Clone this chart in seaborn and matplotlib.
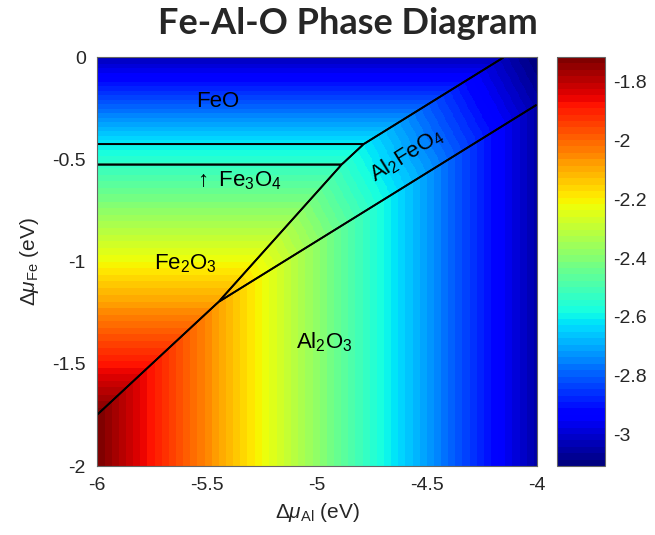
import numpy as np
import pandas as pd
import matplotlib
matplotlib.use("Agg")
import matplotlib.pyplot as plt
import seaborn as sns
from matplotlib.colors import ListedColormap

# ---------------- data ----------------
phases = ["FeO", "Fe3O4", "Fe2O3", "Al2O3", "Al2FeO4"]
n_Al = [0, 0, 0, 2, 2]
n_Fe = [1, 3, 2, 0, 1]
n_O = [1, 4, 3, 3, 4]
H_form = [-3.033, -11.706, -8.648, -17.148, -20.43]   # eV per formula unit

x_range = [-6.0, -4.0]   # delta mu_Al
y_range = [-2.0, 0.0]    # delta mu_Fe

xticks = [-6, -5.5, -5, -4.5, -4]
xtick_labels = ["-6", "-5.5", "-5", "-4.5", "-4"]
yticks = [0, -0.5, -1, -1.5, -2]
ytick_labels = ["0", "-0.5", "-1", "-1.5", "-2"]
cbar_ticks = [-1.8, -2.0, -2.2, -2.4, -2.6, -2.8, -3.0]
cbar_labels = ["-1.8", "-2", "-2.2", "-2.4", "-2.6", "-2.8", "-3"]

label_text = ["FeO", r"$\uparrow$ Fe$_3$O$_4$", "Fe$_2$O$_3$", "Al$_2$O$_3$", "Al$_2$FeO$_4$"]
label_x = [-5.45, -5.36, -5.60, -4.965, -4.59]
label_y = [-0.243, -0.634, -1.041, -1.425, -0.48]
label_rot = [0, 0, 0, 0, 32]

title = "Fe-Al-O Phase Diagram"

# ---------------- style ----------------
sns.set_theme(style="white")
plt.rcParams["font.family"] = ["Liberation Sans", "DejaVu Sans"]
plt.rcParams["mathtext.fontset"] = "custom"
plt.rcParams["mathtext.rm"] = "Liberation Sans"
plt.rcParams["mathtext.it"] = "Liberation Sans:italic"
plt.rcParams["mathtext.bf"] = "Liberation Sans:bold"

# ---------------- field ----------------
N = 500
XMIN, XMAX = x_range
YMIN, YMAX = y_range
xc = XMIN + (np.arange(N) + 0.5) / N * (XMAX - XMIN)
yc = YMAX - (np.arange(N) + 0.5) / N * (YMAX - YMIN)
X, Y = np.meshgrid(xc, yc)
F = np.stack([(h - a * X - b * Y) / o for h, a, b, o in zip(H_form, n_Al, n_Fe, n_O)])
mu_O = F.min(axis=0)
df = pd.DataFrame(mu_O)


def to_ix(v):
    return (np.asarray(v, dtype=float) - XMIN) / (XMAX - XMIN) * N


def to_iy(v):
    return (YMAX - np.asarray(v, dtype=float)) / (YMAX - YMIN) * N


cmap = ListedColormap(plt.get_cmap("jet")(np.linspace(0, 1, 64)))

fig = plt.figure(figsize=(6.55, 5.35), dpi=100)
ax = fig.add_axes([97 / 655, 69 / 535, 440 / 655, 409 / 535])
cax = fig.add_axes([557 / 655, 69 / 535, 48 / 655, 409 / 535])

sns.heatmap(df, ax=ax, cbar_ax=cax, cmap=cmap, xticklabels=False,
            yticklabels=False, rasterized=True)

# phase boundaries
IX, IY = np.meshgrid(np.arange(N) + 0.5, np.arange(N) + 0.5)
for k in range(len(phases)):
    others = np.delete(F, k, axis=0).min(axis=0)
    ax.contour(IX, IY, F[k] - others, levels=[0], colors="black", linewidths=1.3)

# labels
for t, lx, ly, r in zip(label_text, label_x, label_y, label_rot):
    if r == 0:
        ax.text(to_ix(lx), to_iy(ly), t, ha="center", va="baseline",
                fontsize=16, color="black")
    else:
        ax.text(to_ix(lx), to_iy(ly), t, ha="center", va="center",
                rotation=r, rotation_mode="anchor", fontsize=16, color="black")

ax.set_xlim(0, N)
ax.set_ylim(N, 0)
ax.set_xticks(to_ix(xticks))
ax.set_xticklabels(xtick_labels)
ax.set_yticks(to_iy(yticks))
ax.set_yticklabels(ytick_labels, rotation=0)
ax.tick_params(axis="x", length=0, pad=8, labelsize=14, colors="#262626")
ax.tick_params(axis="y", length=0, pad=8, labelsize=14, colors="#262626")
for s in ax.spines.values():
    s.set_visible(True)
    s.set_color("#666666")
    s.set_linewidth(0.8)

ax.set_xlabel(r"$\Delta\mu_{\mathrm{Al}}$ (eV)", fontsize=15, color="#262626", labelpad=5)
ax.set_ylabel(r"$\Delta\mu_{\mathrm{Fe}}$ (eV)", fontsize=15, color="#262626", labelpad=8)

cbar = ax.collections[0].colorbar
cbar.set_ticks(cbar_ticks)
cbar.set_ticklabels(cbar_labels)
cbar.ax.tick_params(labelsize=14, colors="#262626", direction="in", length=4, width=0.6, pad=6)
cbar.outline.set_linewidth(0.8)
cbar.outline.set_edgecolor("#666666")

fig.text(348 / 655, 1 - 23 / 535, title, ha="center", va="center",
         fontsize=26, fontweight="bold", family=["Lato", "DejaVu Sans"])

fig.savefig("out.png", dpi=100)
